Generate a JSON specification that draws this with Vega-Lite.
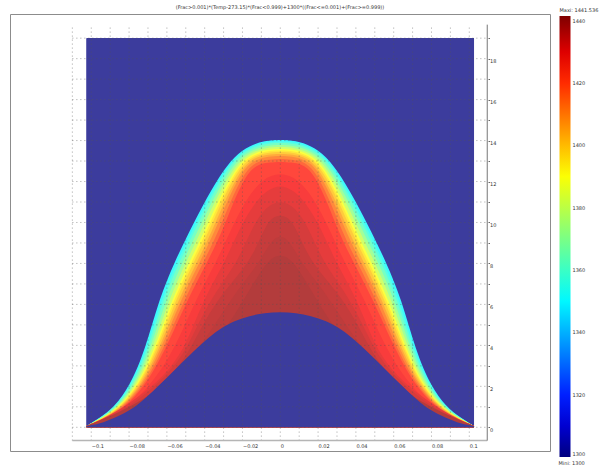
{"$schema":"https://vega.github.io/schema/vega-lite/v6.json","width":540,"height":437,"autosize":{"type":"none"},"padding":{"left":10,"top":14,"right":49,"bottom":15},"background":"white","view":{"stroke":"#8c8c8c","strokeWidth":1},
"config":{"font":"DejaVu Sans"},
"title":{"text":"(Frac>0.001)*(Temp-273.15)*(Frac<0.999)+1300*((Frac<=0.001)+(Frac>=0.999))","fontSize":5,"fontWeight":"normal","color":"#333","anchor":"middle","offset":-2},
"datasets":{
"base":[{"x":-0.1025,"x2":0.1025,"y":0,"y2":19,"v":1300}],
"lower":[{"x":-0.1025,"y":0.06,"v":1300},{"x":-0.0956,"y":0.16,"v":1300},{"x":-0.0877,"y":0.45,"v":1300},{"x":-0.0797,"y":0.8,"v":1300},{"x":-0.0718,"y":1.38,"v":1300},{"x":-0.0639,"y":2.07,"v":1300},{"x":-0.0559,"y":2.8,"v":1300},{"x":-0.048,"y":3.53,"v":1300},{"x":-0.04,"y":4.22,"v":1300},{"x":-0.0321,"y":4.8,"v":1300},{"x":-0.0242,"y":5.2,"v":1300},{"x":-0.0162,"y":5.44,"v":1300},{"x":-0.0083,"y":5.59,"v":1300},{"x":0,"y":5.63,"v":1300},{"x":0.0083,"y":5.59,"v":1300},{"x":0.0162,"y":5.44,"v":1300},{"x":0.0242,"y":5.2,"v":1300},{"x":0.0321,"y":4.8,"v":1300},{"x":0.04,"y":4.22,"v":1300},{"x":0.048,"y":3.53,"v":1300},{"x":0.0559,"y":2.8,"v":1300},{"x":0.0639,"y":2.07,"v":1300},{"x":0.0718,"y":1.38,"v":1300},{"x":0.0797,"y":0.8,"v":1300},{"x":0.0877,"y":0.45,"v":1300},{"x":0.0956,"y":0.16,"v":1300},{"x":0.1025,"y":0.06,"v":1300}],
"contours":[
{"x":-0.1025,"y":0.06,"v":1350},{"x":-0.0956,"y":0.45,"v":1350},{"x":-0.0877,"y":0.99,"v":1350},{"x":-0.0797,"y":2.02,"v":1350},{"x":-0.0718,"y":3.68,"v":1350},{"x":-0.0639,"y":6.32,"v":1350},{"x":-0.0559,"y":8.08,"v":1350},{"x":-0.048,"y":9.59,"v":1350},{"x":-0.04,"y":11.01,"v":1350},{"x":-0.0321,"y":12.28,"v":1350},{"x":-0.0242,"y":13.26,"v":1350},{"x":-0.0162,"y":13.75,"v":1350},{"x":-0.0083,"y":14.0,"v":1350},{"x":0,"y":14.04,"v":1350},{"x":0.0083,"y":14.0,"v":1350},{"x":0.0162,"y":13.75,"v":1350},{"x":0.0242,"y":13.26,"v":1350},{"x":0.0321,"y":12.28,"v":1350},{"x":0.04,"y":11.01,"v":1350},{"x":0.048,"y":9.59,"v":1350},{"x":0.0559,"y":8.08,"v":1350},{"x":0.0639,"y":6.32,"v":1350},{"x":0.0718,"y":3.68,"v":1350},{"x":0.0797,"y":2.02,"v":1350},{"x":0.0877,"y":0.99,"v":1350},{"x":0.0956,"y":0.45,"v":1350},{"x":0.1025,"y":0.06,"v":1350},
{"x":-0.1025,"y":0.06,"v":1356},{"x":-0.0953,"y":0.45,"v":1356},{"x":-0.0873,"y":0.99,"v":1356},{"x":-0.0791,"y":2.02,"v":1356},{"x":-0.071,"y":3.68,"v":1356},{"x":-0.0627,"y":6.32,"v":1356},{"x":-0.0546,"y":8.08,"v":1356},{"x":-0.0467,"y":9.59,"v":1356},{"x":-0.0388,"y":11.01,"v":1356},{"x":-0.031,"y":12.28,"v":1356},{"x":-0.0235,"y":13.22,"v":1356},{"x":-0.0158,"y":13.69,"v":1356},{"x":-0.0081,"y":13.92,"v":1356},{"x":0,"y":13.97,"v":1356},{"x":0.0081,"y":13.92,"v":1356},{"x":0.0158,"y":13.69,"v":1356},{"x":0.0235,"y":13.22,"v":1356},{"x":0.031,"y":12.28,"v":1356},{"x":0.0388,"y":11.01,"v":1356},{"x":0.0467,"y":9.59,"v":1356},{"x":0.0546,"y":8.08,"v":1356},{"x":0.0627,"y":6.32,"v":1356},{"x":0.071,"y":3.68,"v":1356},{"x":0.0791,"y":2.02,"v":1356},{"x":0.0873,"y":0.99,"v":1356},{"x":0.0953,"y":0.45,"v":1356},{"x":0.1025,"y":0.06,"v":1356},
{"x":-0.1025,"y":0.06,"v":1363},{"x":-0.0951,"y":0.45,"v":1363},{"x":-0.0868,"y":0.99,"v":1363},{"x":-0.0785,"y":2.02,"v":1363},{"x":-0.0702,"y":3.68,"v":1363},{"x":-0.0616,"y":6.32,"v":1363},{"x":-0.0533,"y":8.08,"v":1363},{"x":-0.0454,"y":9.59,"v":1363},{"x":-0.0377,"y":11.01,"v":1363},{"x":-0.03,"y":12.28,"v":1363},{"x":-0.0228,"y":13.19,"v":1363},{"x":-0.0153,"y":13.63,"v":1363},{"x":-0.008,"y":13.85,"v":1363},{"x":0,"y":13.9,"v":1363},{"x":0.008,"y":13.85,"v":1363},{"x":0.0153,"y":13.63,"v":1363},{"x":0.0228,"y":13.19,"v":1363},{"x":0.03,"y":12.28,"v":1363},{"x":0.0377,"y":11.01,"v":1363},{"x":0.0454,"y":9.59,"v":1363},{"x":0.0533,"y":8.08,"v":1363},{"x":0.0616,"y":6.32,"v":1363},{"x":0.0702,"y":3.68,"v":1363},{"x":0.0785,"y":2.02,"v":1363},{"x":0.0868,"y":0.99,"v":1363},{"x":0.0951,"y":0.45,"v":1363},{"x":0.1025,"y":0.06,"v":1363},
{"x":-0.1025,"y":0.06,"v":1372},{"x":-0.0947,"y":0.45,"v":1372},{"x":-0.0863,"y":0.99,"v":1372},{"x":-0.0777,"y":2.02,"v":1372},{"x":-0.0692,"y":3.68,"v":1372},{"x":-0.0601,"y":6.32,"v":1372},{"x":-0.0516,"y":8.08,"v":1372},{"x":-0.0437,"y":9.59,"v":1372},{"x":-0.0362,"y":11.01,"v":1372},{"x":-0.0286,"y":12.28,"v":1372},{"x":-0.0218,"y":13.14,"v":1372},{"x":-0.0147,"y":13.55,"v":1372},{"x":-0.0078,"y":13.75,"v":1372},{"x":0,"y":13.8,"v":1372},{"x":0.0078,"y":13.75,"v":1372},{"x":0.0147,"y":13.55,"v":1372},{"x":0.0218,"y":13.14,"v":1372},{"x":0.0286,"y":12.28,"v":1372},{"x":0.0362,"y":11.01,"v":1372},{"x":0.0437,"y":9.59,"v":1372},{"x":0.0516,"y":8.08,"v":1372},{"x":0.0601,"y":6.32,"v":1372},{"x":0.0692,"y":3.68,"v":1372},{"x":0.0777,"y":2.02,"v":1372},{"x":0.0863,"y":0.99,"v":1372},{"x":0.0947,"y":0.45,"v":1372},{"x":0.1025,"y":0.06,"v":1372},
{"x":-0.1025,"y":0.06,"v":1381},{"x":-0.0944,"y":0.45,"v":1381},{"x":-0.0857,"y":0.99,"v":1381},{"x":-0.0769,"y":2.02,"v":1381},{"x":-0.0681,"y":3.68,"v":1381},{"x":-0.0586,"y":6.32,"v":1381},{"x":-0.0498,"y":8.08,"v":1381},{"x":-0.0419,"y":9.59,"v":1381},{"x":-0.0347,"y":11.01,"v":1381},{"x":-0.0272,"y":12.28,"v":1381},{"x":-0.0208,"y":13.09,"v":1381},{"x":-0.014,"y":13.48,"v":1381},{"x":-0.0076,"y":13.65,"v":1381},{"x":0,"y":13.7,"v":1381},{"x":0.0076,"y":13.65,"v":1381},{"x":0.014,"y":13.48,"v":1381},{"x":0.0208,"y":13.09,"v":1381},{"x":0.0272,"y":12.28,"v":1381},{"x":0.0347,"y":11.01,"v":1381},{"x":0.0419,"y":9.59,"v":1381},{"x":0.0498,"y":8.08,"v":1381},{"x":0.0586,"y":6.32,"v":1381},{"x":0.0681,"y":3.68,"v":1381},{"x":0.0769,"y":2.02,"v":1381},{"x":0.0857,"y":0.99,"v":1381},{"x":0.0944,"y":0.45,"v":1381},{"x":0.1025,"y":0.06,"v":1381},
{"x":-0.1025,"y":0.06,"v":1390},{"x":-0.094,"y":0.45,"v":1390},{"x":-0.0851,"y":0.99,"v":1390},{"x":-0.076,"y":2.02,"v":1390},{"x":-0.067,"y":3.68,"v":1390},{"x":-0.057,"y":6.32,"v":1390},{"x":-0.048,"y":8.08,"v":1390},{"x":-0.0401,"y":9.59,"v":1390},{"x":-0.0331,"y":11.01,"v":1390},{"x":-0.0258,"y":12.28,"v":1390},{"x":-0.0199,"y":13.04,"v":1390},{"x":-0.0134,"y":13.4,"v":1390},{"x":-0.0074,"y":13.55,"v":1390},{"x":0,"y":13.6,"v":1390},{"x":0.0074,"y":13.55,"v":1390},{"x":0.0134,"y":13.4,"v":1390},{"x":0.0199,"y":13.04,"v":1390},{"x":0.0258,"y":12.28,"v":1390},{"x":0.0331,"y":11.01,"v":1390},{"x":0.0401,"y":9.59,"v":1390},{"x":0.048,"y":8.08,"v":1390},{"x":0.057,"y":6.32,"v":1390},{"x":0.067,"y":3.68,"v":1390},{"x":0.076,"y":2.02,"v":1390},{"x":0.0851,"y":0.99,"v":1390},{"x":0.094,"y":0.45,"v":1390},{"x":0.1025,"y":0.06,"v":1390},
{"x":-0.1025,"y":0.06,"v":1395},{"x":-0.0938,"y":0.45,"v":1395},{"x":-0.0847,"y":0.99,"v":1395},{"x":-0.0754,"y":2.02,"v":1395},{"x":-0.0663,"y":3.68,"v":1395},{"x":-0.056,"y":6.32,"v":1395},{"x":-0.0468,"y":8.08,"v":1395},{"x":-0.0389,"y":9.59,"v":1395},{"x":-0.0321,"y":11.01,"v":1395},{"x":-0.0249,"y":12.28,"v":1395},{"x":-0.0192,"y":13.0,"v":1395},{"x":-0.0129,"y":13.34,"v":1395},{"x":-0.0072,"y":13.48,"v":1395},{"x":0,"y":13.53,"v":1395},{"x":0.0072,"y":13.48,"v":1395},{"x":0.0129,"y":13.34,"v":1395},{"x":0.0192,"y":13.0,"v":1395},{"x":0.0249,"y":12.28,"v":1395},{"x":0.0321,"y":11.01,"v":1395},{"x":0.0389,"y":9.59,"v":1395},{"x":0.0468,"y":8.08,"v":1395},{"x":0.056,"y":6.32,"v":1395},{"x":0.0663,"y":3.68,"v":1395},{"x":0.0754,"y":2.02,"v":1395},{"x":0.0847,"y":0.99,"v":1395},{"x":0.0938,"y":0.45,"v":1395},{"x":0.1025,"y":0.06,"v":1395},
{"x":-0.1025,"y":0.06,"v":1400},{"x":-0.0935,"y":0.45,"v":1400},{"x":-0.0843,"y":0.99,"v":1400},{"x":-0.0749,"y":2.02,"v":1400},{"x":-0.0656,"y":3.68,"v":1400},{"x":-0.0549,"y":6.32,"v":1400},{"x":-0.0456,"y":8.08,"v":1400},{"x":-0.0377,"y":9.59,"v":1400},{"x":-0.031,"y":11.01,"v":1400},{"x":-0.0239,"y":12.28,"v":1400},{"x":-0.0185,"y":12.97,"v":1400},{"x":-0.0124,"y":13.28,"v":1400},{"x":-0.007,"y":13.41,"v":1400},{"x":0,"y":13.46,"v":1400},{"x":0.007,"y":13.41,"v":1400},{"x":0.0124,"y":13.28,"v":1400},{"x":0.0185,"y":12.97,"v":1400},{"x":0.0239,"y":12.28,"v":1400},{"x":0.031,"y":11.01,"v":1400},{"x":0.0377,"y":9.59,"v":1400},{"x":0.0456,"y":8.08,"v":1400},{"x":0.0549,"y":6.32,"v":1400},{"x":0.0656,"y":3.68,"v":1400},{"x":0.0749,"y":2.02,"v":1400},{"x":0.0843,"y":0.99,"v":1400},{"x":0.0935,"y":0.45,"v":1400},{"x":0.1025,"y":0.06,"v":1400},
{"x":-0.1025,"y":0.06,"v":1406},{"x":-0.0932,"y":0.45,"v":1406},{"x":-0.0838,"y":0.99,"v":1406},{"x":-0.0741,"y":2.02,"v":1406},{"x":-0.0646,"y":3.68,"v":1406},{"x":-0.0535,"y":6.32,"v":1406},{"x":-0.044,"y":8.08,"v":1406},{"x":-0.0361,"y":9.59,"v":1406},{"x":-0.0296,"y":11.01,"v":1406},{"x":-0.0226,"y":12.28,"v":1406},{"x":-0.0175,"y":12.92,"v":1406},{"x":-0.0118,"y":13.21,"v":1406},{"x":-0.0068,"y":13.32,"v":1406},{"x":0,"y":13.36,"v":1406},{"x":0.0068,"y":13.32,"v":1406},{"x":0.0118,"y":13.21,"v":1406},{"x":0.0175,"y":12.92,"v":1406},{"x":0.0226,"y":12.28,"v":1406},{"x":0.0296,"y":11.01,"v":1406},{"x":0.0361,"y":9.59,"v":1406},{"x":0.044,"y":8.08,"v":1406},{"x":0.0535,"y":6.32,"v":1406},{"x":0.0646,"y":3.68,"v":1406},{"x":0.0741,"y":2.02,"v":1406},{"x":0.0838,"y":0.99,"v":1406},{"x":0.0932,"y":0.45,"v":1406},{"x":0.1025,"y":0.06,"v":1406},
{"x":-0.1025,"y":0.06,"v":1412},{"x":-0.0929,"y":0.45,"v":1412},{"x":-0.0833,"y":0.99,"v":1412},{"x":-0.0734,"y":2.02,"v":1412},{"x":-0.0636,"y":3.68,"v":1412},{"x":-0.0522,"y":6.32,"v":1412},{"x":-0.0425,"y":8.08,"v":1412},{"x":-0.0346,"y":9.59,"v":1412},{"x":-0.0283,"y":11.01,"v":1412},{"x":-0.0214,"y":12.28,"v":1412},{"x":-0.0166,"y":12.87,"v":1412},{"x":-0.0112,"y":13.12,"v":1412},{"x":-0.0066,"y":13.21,"v":1412},{"x":0,"y":13.27,"v":1412},{"x":0.0066,"y":13.21,"v":1412},{"x":0.0112,"y":13.12,"v":1412},{"x":0.0166,"y":12.87,"v":1412},{"x":0.0214,"y":12.28,"v":1412},{"x":0.0283,"y":11.01,"v":1412},{"x":0.0346,"y":9.59,"v":1412},{"x":0.0425,"y":8.08,"v":1412},{"x":0.0522,"y":6.32,"v":1412},{"x":0.0636,"y":3.68,"v":1412},{"x":0.0734,"y":2.02,"v":1412},{"x":0.0833,"y":0.99,"v":1412},{"x":0.0929,"y":0.45,"v":1412},{"x":0.1025,"y":0.06,"v":1412},
{"x":-0.1025,"y":0.06,"v":1418},{"x":-0.0925,"y":0.45,"v":1418},{"x":-0.0826,"y":0.99,"v":1418},{"x":-0.0725,"y":2.02,"v":1418},{"x":-0.0624,"y":3.68,"v":1418},{"x":-0.0504,"y":6.32,"v":1418},{"x":-0.0405,"y":8.08,"v":1418},{"x":-0.0326,"y":9.59,"v":1418},{"x":-0.0265,"y":11.01,"v":1418},{"x":-0.0198,"y":12.28,"v":1418},{"x":-0.0152,"y":12.8,"v":1418},{"x":-0.0102,"y":13.01,"v":1418},{"x":-0.0063,"y":13.07,"v":1418},{"x":0,"y":13.12,"v":1418},{"x":0.0063,"y":13.07,"v":1418},{"x":0.0102,"y":13.01,"v":1418},{"x":0.0152,"y":12.8,"v":1418},{"x":0.0198,"y":12.28,"v":1418},{"x":0.0265,"y":11.01,"v":1418},{"x":0.0326,"y":9.59,"v":1418},{"x":0.0405,"y":8.08,"v":1418},{"x":0.0504,"y":6.32,"v":1418},{"x":0.0624,"y":3.68,"v":1418},{"x":0.0725,"y":2.02,"v":1418},{"x":0.0826,"y":0.99,"v":1418},{"x":0.0925,"y":0.45,"v":1418},{"x":0.1025,"y":0.06,"v":1418},
{"x":-0.1025,"y":0.06,"v":1424},{"x":-0.0921,"y":0.45,"v":1424},{"x":-0.082,"y":0.99,"v":1424},{"x":-0.0716,"y":2.02,"v":1424},{"x":-0.0612,"y":3.68,"v":1424},{"x":-0.0487,"y":6.32,"v":1424},{"x":-0.0385,"y":8.08,"v":1424},{"x":-0.0306,"y":9.59,"v":1424},{"x":-0.0248,"y":11.01,"v":1424},{"x":-0.0182,"y":12.28,"v":1424},{"x":-0.0137,"y":12.72,"v":1424},{"x":-0.0093,"y":12.89,"v":1424},{"x":-0.006,"y":12.92,"v":1424},{"x":0,"y":12.97,"v":1424},{"x":0.006,"y":12.92,"v":1424},{"x":0.0093,"y":12.89,"v":1424},{"x":0.0137,"y":12.72,"v":1424},{"x":0.0182,"y":12.28,"v":1424},{"x":0.0248,"y":11.01,"v":1424},{"x":0.0306,"y":9.59,"v":1424},{"x":0.0385,"y":8.08,"v":1424},{"x":0.0487,"y":6.32,"v":1424},{"x":0.0612,"y":3.68,"v":1424},{"x":0.0716,"y":2.02,"v":1424},{"x":0.082,"y":0.99,"v":1424},{"x":0.0921,"y":0.45,"v":1424},{"x":0.1025,"y":0.06,"v":1424},
{"x":-0.1025,"y":0.06,"v":1427},{"x":-0.0915,"y":0.45,"v":1427},{"x":-0.0805,"y":0.99,"v":1427},{"x":-0.069,"y":2.02,"v":1427},{"x":-0.0565,"y":3.68,"v":1427},{"x":-0.0443,"y":6.32,"v":1427},{"x":-0.0338,"y":8.08,"v":1427},{"x":-0.0264,"y":9.59,"v":1427},{"x":-0.0189,"y":11.01,"v":1427},{"x":-0.0095,"y":12.15,"v":1427},{"x":0,"y":12.45,"v":1427},{"x":0.0095,"y":12.15,"v":1427},{"x":0.0189,"y":11.01,"v":1427},{"x":0.0264,"y":9.59,"v":1427},{"x":0.0338,"y":8.08,"v":1427},{"x":0.0443,"y":6.32,"v":1427},{"x":0.0565,"y":3.68,"v":1427},{"x":0.069,"y":2.02,"v":1427},{"x":0.0805,"y":0.99,"v":1427},{"x":0.0915,"y":0.45,"v":1427},{"x":0.1025,"y":0.06,"v":1427},
{"x":-0.1025,"y":0.06,"v":1430},{"x":-0.0903,"y":0.55,"v":1430},{"x":-0.0771,"y":1.33,"v":1430},{"x":-0.0617,"y":2.46,"v":1430},{"x":-0.0512,"y":3.78,"v":1430},{"x":-0.0453,"y":5.15,"v":1430},{"x":-0.0379,"y":6.71,"v":1430},{"x":-0.0295,"y":8.03,"v":1430},{"x":-0.0215,"y":9.74,"v":1430},{"x":-0.0136,"y":10.96,"v":1430},{"x":-0.0067,"y":11.6,"v":1430},{"x":0,"y":11.84,"v":1430},{"x":0.0067,"y":11.6,"v":1430},{"x":0.0136,"y":10.96,"v":1430},{"x":0.0215,"y":9.74,"v":1430},{"x":0.0295,"y":8.03,"v":1430},{"x":0.0379,"y":6.71,"v":1430},{"x":0.0453,"y":5.15,"v":1430},{"x":0.0512,"y":3.78,"v":1430},{"x":0.0617,"y":2.46,"v":1430},{"x":0.0771,"y":1.33,"v":1430},{"x":0.0903,"y":0.55,"v":1430},{"x":0.1025,"y":0.06,"v":1430},
{"x":-0.1025,"y":0.06,"v":1432.5},{"x":-0.0845,"y":0.7,"v":1432.5},{"x":-0.0644,"y":2.1,"v":1432.5},{"x":-0.0512,"y":3.5,"v":1432.5},{"x":-0.043,"y":5.15,"v":1432.5},{"x":-0.0337,"y":6.71,"v":1432.5},{"x":-0.0228,"y":8.03,"v":1432.5},{"x":-0.015,"y":9.74,"v":1432.5},{"x":-0.008,"y":10.75,"v":1432.5},{"x":0,"y":11.11,"v":1432.5},{"x":0.008,"y":10.75,"v":1432.5},{"x":0.015,"y":9.74,"v":1432.5},{"x":0.0228,"y":8.03,"v":1432.5},{"x":0.0337,"y":6.71,"v":1432.5},{"x":0.043,"y":5.15,"v":1432.5},{"x":0.0512,"y":3.5,"v":1432.5},{"x":0.0644,"y":2.1,"v":1432.5},{"x":0.0845,"y":0.7,"v":1432.5},{"x":0.1025,"y":0.06,"v":1432.5},
{"x":-0.1025,"y":0.06,"v":1435},{"x":-0.0744,"y":0.85,"v":1435},{"x":-0.0506,"y":3.19,"v":1435},{"x":-0.0406,"y":5.15,"v":1435},{"x":-0.0295,"y":6.71,"v":1435},{"x":-0.0162,"y":8.03,"v":1435},{"x":-0.0083,"y":9.74,"v":1435},{"x":-0.0046,"y":10.23,"v":1435},{"x":0,"y":10.38,"v":1435},{"x":0.0046,"y":10.23,"v":1435},{"x":0.0083,"y":9.74,"v":1435},{"x":0.0162,"y":8.03,"v":1435},{"x":0.0295,"y":6.71,"v":1435},{"x":0.0406,"y":5.15,"v":1435},{"x":0.0506,"y":3.19,"v":1435},{"x":0.0744,"y":0.85,"v":1435},{"x":0.1025,"y":0.06,"v":1435},
{"x":-0.1025,"y":0.06,"v":1436.5},{"x":-0.0715,"y":1.1,"v":1436.5},{"x":-0.0465,"y":3.43,"v":1436.5},{"x":-0.035,"y":4.95,"v":1436.5},{"x":-0.0228,"y":6.71,"v":1436.5},{"x":-0.0111,"y":8.03,"v":1436.5},{"x":-0.005,"y":9.1,"v":1436.5},{"x":0,"y":9.4,"v":1436.5},{"x":0.005,"y":9.1,"v":1436.5},{"x":0.0111,"y":8.03,"v":1436.5},{"x":0.0228,"y":6.71,"v":1436.5},{"x":0.035,"y":4.95,"v":1436.5},{"x":0.0465,"y":3.43,"v":1436.5},{"x":0.0715,"y":1.1,"v":1436.5},{"x":0.1025,"y":0.06,"v":1436.5},
{"x":-0.1025,"y":0.06,"v":1438},{"x":-0.0692,"y":1.33,"v":1438},{"x":-0.0427,"y":3.68,"v":1438},{"x":-0.0295,"y":4.76,"v":1438},{"x":-0.0242,"y":5.49,"v":1438},{"x":-0.0162,"y":6.71,"v":1438},{"x":-0.0099,"y":7.69,"v":1438},{"x":-0.0046,"y":8.28,"v":1438},{"x":0,"y":8.42,"v":1438},{"x":0.0046,"y":8.28,"v":1438},{"x":0.0099,"y":7.69,"v":1438},{"x":0.0162,"y":6.71,"v":1438},{"x":0.0242,"y":5.49,"v":1438},{"x":0.0295,"y":4.76,"v":1438},{"x":0.0427,"y":3.68,"v":1438},{"x":0.0692,"y":1.33,"v":1438},{"x":0.1025,"y":0.06,"v":1438}
],
"vgrid":[{"x":-0.11,"y":-0.65,"y2":19.57},{"x":-0.1,"y":-0.65,"y2":19.57},{"x":-0.09,"y":-0.65,"y2":19.57},{"x":-0.08,"y":-0.65,"y2":19.57},{"x":-0.07,"y":-0.65,"y2":19.57},{"x":-0.06,"y":-0.65,"y2":19.57},{"x":-0.05,"y":-0.65,"y2":19.57},{"x":-0.04,"y":-0.65,"y2":19.57},{"x":-0.03,"y":-0.65,"y2":19.57},{"x":-0.02,"y":-0.65,"y2":19.57},{"x":-0.01,"y":-0.65,"y2":19.57},{"x":0,"y":-0.65,"y2":19.57},{"x":0.01,"y":-0.65,"y2":19.57},{"x":0.02,"y":-0.65,"y2":19.57},{"x":0.03,"y":-0.65,"y2":19.57},{"x":0.04,"y":-0.65,"y2":19.57},{"x":0.05,"y":-0.65,"y2":19.57},{"x":0.06,"y":-0.65,"y2":19.57},{"x":0.07,"y":-0.65,"y2":19.57},{"x":0.08,"y":-0.65,"y2":19.57},{"x":0.09,"y":-0.65,"y2":19.57},{"x":0.1,"y":-0.65,"y2":19.57}],
"hgrid":[{"y":0,"x":-0.11,"x2":0.1095},{"y":1,"x":-0.11,"x2":0.1095},{"y":2,"x":-0.11,"x2":0.1095},{"y":3,"x":-0.11,"x2":0.1095},{"y":4,"x":-0.11,"x2":0.1095},{"y":5,"x":-0.11,"x2":0.1095},{"y":6,"x":-0.11,"x2":0.1095},{"y":7,"x":-0.11,"x2":0.1095},{"y":8,"x":-0.11,"x2":0.1095},{"y":9,"x":-0.11,"x2":0.1095},{"y":10,"x":-0.11,"x2":0.1095},{"y":11,"x":-0.11,"x2":0.1095},{"y":12,"x":-0.11,"x2":0.1095},{"y":13,"x":-0.11,"x2":0.1095},{"y":14,"x":-0.11,"x2":0.1095},{"y":15,"x":-0.11,"x2":0.1095},{"y":16,"x":-0.11,"x2":0.1095},{"y":17,"x":-0.11,"x2":0.1095},{"y":18,"x":-0.11,"x2":0.1095},{"y":19,"x":-0.11,"x2":0.1095}]
},
"encoding":{
"x":{"field":"x","type":"quantitative","scale":{"domain":[-0.143,0.1427],"nice":false,"zero":false},"axis":{"title":null,"grid":false,"domain":false,"ticks":false,"offset":-10,"values":[-0.1,-0.08,-0.06,-0.04,-0.02,0,0.02,0.04,0.06,0.08,0.1],"format":".2~f","labelAlign":"left","labelBaseline":"top","labelPadding":2,"labelFontSize":5,"labelColor":"#333","labelOverlap":false,"labelBound":false,"labelFlush":false}},
"y":{"field":"y","type":"quantitative","stack":null,"scale":{"domain":[-1.158,20.18],"nice":false,"zero":false},"axis":{"title":null,"grid":false,"domain":false,"orient":"right","offset":-62,"values":[0,1,2,3,4,5,6,7,8,9,10,11,12,13,14,15,16,17,18,19],"labelExpr":"datum.value%2==0?datum.label:''","labelBaseline":"top","labelAlign":"left","tickSize":1.5,"tickColor":"#666","labelPadding":0,"labelFontSize":5,"labelColor":"#333","labelOverlap":false,"labelBound":false,"labelFlush":false}}
},
"layer":[
{"data":{"name":"base"},"mark":{"type":"rect"},"encoding":{"x2":{"field":"x2"},"y2":{"field":"y2"},"color":{"field":"v","type":"quantitative","scale":{"domain":[1300,1315.6,1351,1390.6,1426,1441.536],"range":["#00007f","#0000ff","#00ffff","#ffff00","#ff0000","#7f0000"],"interpolate":"rgb"},"legend":{"orient":"none","legendX":549.5,"legendY":-6,"title":"Maxi: 1441.536","titleFontSize":5,"titleFontWeight":"normal","titleColor":"#333","titlePadding":3,"direction":"vertical","gradientLength":441,"gradientThickness":11,"gradientOpacity":1,"labelFontSize":5,"labelColor":"#333","labelOffset":2,"labelOverlap":false,"format":"d","values":[1300,1320,1340,1360,1380,1400,1420,1440]}}}},
{"data":{"name":"base"},"mark":{"type":"rect"},"encoding":{"x2":{"field":"x2"},"y2":{"field":"y2"},"color":{"field":"v","type":"quantitative","scale":{"domain":[1300,1315.6,1351,1390.6,1426,1441.536],"range":["#3c3c9d","#3c3cff","#3cffff","#ffff3c","#ff3c3c","#9d3c3c"],"interpolate":"rgb"},"legend":null}}},
{"data":{"name":"contours"},"mark":{"type":"area","interpolate":"basis"},"encoding":{"detail":{"field":"v","type":"nominal"},"color":{"field":"v","type":"quantitative","scale":{"domain":[1300,1315.6,1351,1390.6,1426,1441.536],"range":["#3c3c9d","#3c3cff","#3cffff","#ffff3c","#ff3c3c","#9d3c3c"],"interpolate":"rgb"},"legend":null}}},
{"data":{"name":"lower"},"mark":{"type":"area","interpolate":"basis"},"encoding":{"color":{"field":"v","type":"quantitative","scale":{"domain":[1300,1315.6,1351,1390.6,1426,1441.536],"range":["#3c3c9d","#3c3cff","#3cffff","#ffff3c","#ff3c3c","#9d3c3c"],"interpolate":"rgb"},"legend":null}}},
{"data":{"name":"vgrid"},"mark":{"type":"rule","color":"#555","strokeDash":[1,3],"strokeWidth":1,"opacity":0.55},"encoding":{"y2":{"field":"y2"}}},
{"data":{"name":"hgrid"},"mark":{"type":"rule","color":"#555","strokeDash":[1,3],"strokeWidth":1,"opacity":0.55},"encoding":{"x2":{"field":"x2"}}},
{"data":{"values":[{"y":-0.65,"x":-0.11,"x2":0.1095}]},"mark":{"type":"rule","color":"#b5b5b5","strokeWidth":1.5},"encoding":{"x2":{"field":"x2"}}},
{"data":{"values":[{"x":0.1095,"y":-0.65,"y2":19.66}]},"mark":{"type":"rule","color":"#777","strokeWidth":1},"encoding":{"y2":{"field":"y2"}}},
{"data":{"values":[{"x":0.1472,"y":-1.745,"label":"Mini: 1300"}]},"mark":{"type":"text","fontSize":5,"align":"left","color":"#333"},"encoding":{"text":{"field":"label"}}}
],
"resolve":{"scale":{"color":"independent"}}
}
